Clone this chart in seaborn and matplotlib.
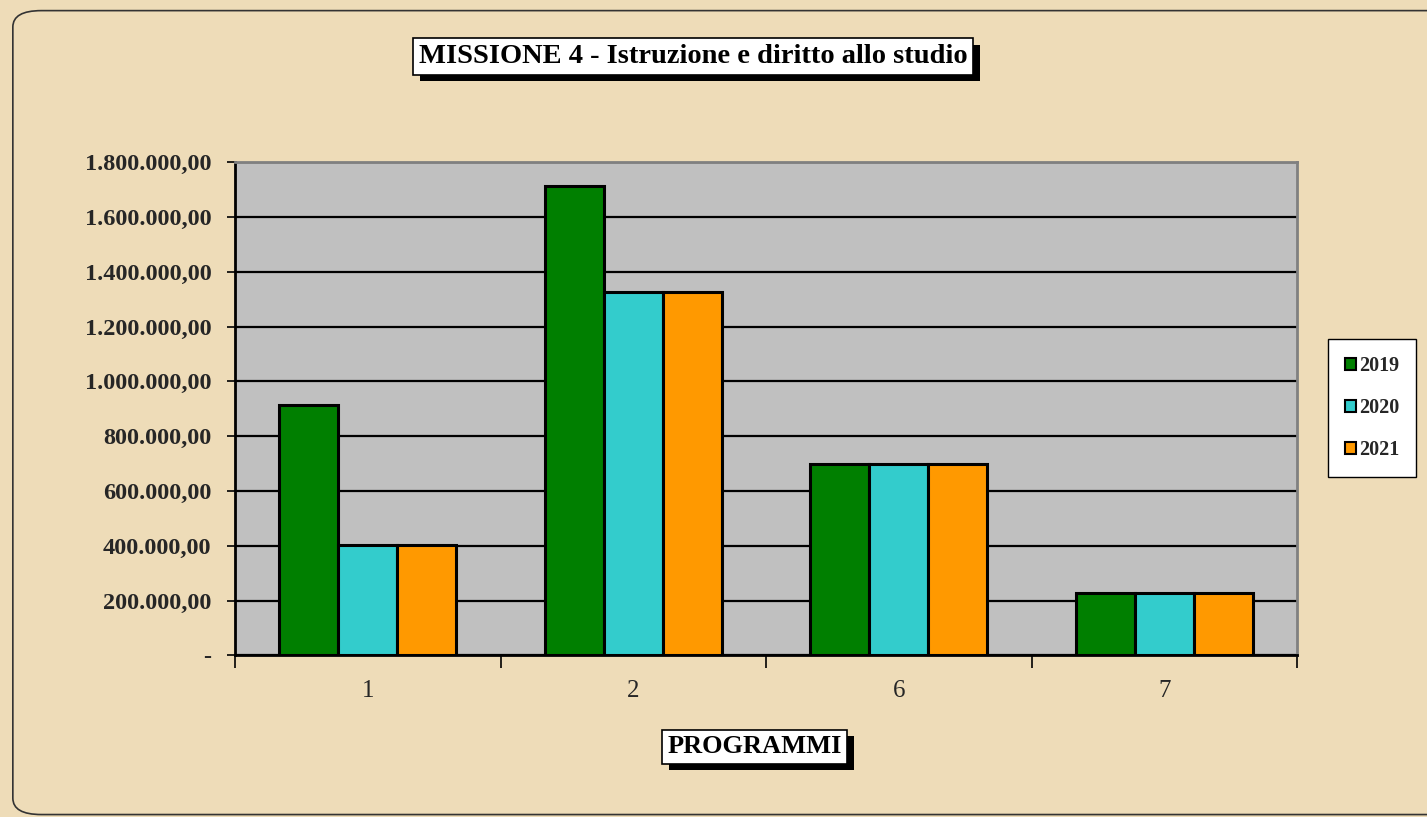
import numpy as np
import pandas as pd
import seaborn as sns
import matplotlib.pyplot as plt
from matplotlib.ticker import FuncFormatter, FixedLocator
from matplotlib.patches import FancyBboxPatch, Patch, Rectangle

# data
programmi = ['1', '2', '6', '7']
anni = ['2019', '2020', '2021']
valori_2019 = [914000, 1712000, 699000, 227000]
valori_2020 = [404000, 1327000, 699000, 227000]
valori_2021 = [404000, 1327000, 699000, 227000]
colori = ['#007F00', '#33CCCC', '#FF9900']

df = pd.DataFrame({
    'programma': programmi * 3,
    'anno': [a for a in anni for _ in programmi],
    'valore': valori_2019 + valori_2020 + valori_2021,
})

sns.set_theme(style='white')
plt.rcParams['font.family'] = ['Liberation Serif', 'DejaVu Serif']

fig = plt.figure(figsize=(14.27, 8.17), dpi=100)
fig.patch.set_facecolor('#EEDCB8')
ax = fig.add_axes([0.1647, 0.1977, 0.7442, 0.604])
ax.set_facecolor('#C0C0C0')

sns.barplot(data=df, x='programma', y='valore', hue='anno', palette=colori,
            saturation=1, width=0.667, edgecolor='black', linewidth=2.2,
            ax=ax, legend=False)

ax.set_ylim(0, 1800000)
ax.set_xlim(-0.5, 3.5)
ax.yaxis.set_major_locator(FixedLocator(np.arange(0, 1800001, 200000)))


def fmt_it(v, pos):
    if v == 0:
        return '-'
    s = f'{v:,.2f}'
    return s.replace(',', 'X').replace('.', ',').replace('X', '.')


ax.yaxis.set_major_formatter(FuncFormatter(fmt_it))
ax.yaxis.grid(True, color='black', linewidth=1.6)
ax.set_axisbelow(True)

# ticks
ax.tick_params(axis='y', direction='out', length=6, width=1.2, color='black',
               left=True, labelsize=17.5, pad=11)
for t in ax.get_yticklabels():
    t.set_fontweight('bold')
ax.tick_params(axis='x', which='major', length=0, labelsize=18, pad=18)
ax.set_xticks([-0.5, 0.5, 1.5, 2.5, 3.5], minor=True)
ax.tick_params(axis='x', which='minor', direction='out', length=9, width=1.2,
               color='black', bottom=True)
ax.set_xlabel('')
ax.set_ylabel('')

for side in ['left', 'bottom']:
    ax.spines[side].set_color('black')
    ax.spines[side].set_linewidth(2)
for side in ['top', 'right']:
    ax.spines[side].set_color('#808080')
    ax.spines[side].set_linewidth(2)

# legend
handles = [Patch(facecolor=c, edgecolor='black', linewidth=1.5) for c in colori]
leg = fig.legend(handles, anni, loc='center', bbox_to_anchor=(0.9615, 0.5006),
                 frameon=True, fancybox=False, framealpha=1, handlelength=0.55,
                 handleheight=0.55, handletextpad=0.15, labelspacing=1.1,
                 borderpad=0.85, borderaxespad=0,
                 prop={'weight': 'bold', 'size': 14.5})
leg.get_frame().set_edgecolor('black')
leg.get_frame().set_linewidth(1.0)
leg.get_frame().set_facecolor('white')

# title and x-label boxes, with a drop shadow drawn behind
boxes = []
for x, y, txt, size in [(0.4857, 0.931, 'MISSIONE 4 - Istruzione e diritto allo studio', 20.5),
                        (0.529, 0.086, 'PROGRAMMI', 19)]:
    t = fig.text(x, y, txt, ha='center', va='center', fontsize=size, fontweight='bold',
                 color='black', zorder=5,
                 bbox=dict(facecolor='white', edgecolor='black', linewidth=1.2,
                           boxstyle='square,pad=0.2'))
    boxes.append(t)

fig.canvas.draw()
inv = fig.transFigure.inverted()
for t in boxes:
    bb = t.get_bbox_patch().get_window_extent().transformed(inv)
    fig.patches.append(Rectangle((bb.x0 + 0.0045, bb.y0 - 0.008), bb.width, bb.height,
                                 transform=fig.transFigure, facecolor='black',
                                 edgecolor='none', zorder=4))

# outer rounded frame
fig.patches.append(FancyBboxPatch((0.009, 0.003), 1.05, 0.984, transform=fig.transFigure,
                                  boxstyle='round,pad=0,rounding_size=0.02',
                                  facecolor='none', edgecolor='#333333', linewidth=1.2))

fig.savefig('out.png', dpi=100, facecolor=fig.get_facecolor())
